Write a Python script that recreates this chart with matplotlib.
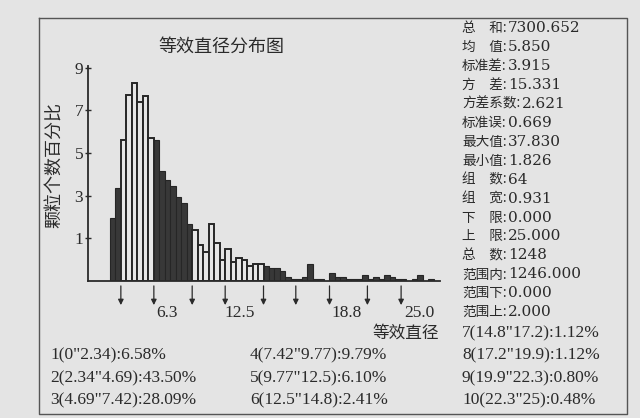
import numpy as np
import matplotlib
matplotlib.use("Agg")
import matplotlib.pyplot as plt
from matplotlib.lines import Line2D

# ---------------- data ----------------
n_bins = 64
x_upper = 25.0
bin_counts = [0, 0, 0, 0, 33, 49,            # group 1 (bins 0-5)
              74, 98, 104, 94, 97, 75,        # group 2 (bins 6-11)
              74, 58, 53, 50, 44, 41, 30,     # group 3 (bins 12-18)
              27, 19, 15, 30, 20, 11,         # group 4 (bins 19-24)
              17, 10, 12, 11, 8, 9, 9,        # group 5 (bins 25-31)
              8, 7, 7, 5, 2, 1,               # group 6 (bins 32-37)
              1, 2, 9, 1, 1, 0,               # group 7 (bins 38-43)
              4, 2, 2, 1, 1, 1, 3,            # group 8 (bins 44-50)
              1, 2, 1, 3, 2, 1,               # group 9 (bins 51-56)
              1, 0, 1, 3, 0, 1, 0]            # group 10 (bins 57-63)
total_in_range = 1246

group_edges = [0, 2.34, 4.69, 7.42, 9.77, 12.5, 14.8, 17.2, 19.9, 22.3, 25]
edge_labels = ['0', '2.34', '4.69', '7.42', '9.77', '12.5', '14.8', '17.2', '19.9', '22.3', '25']
group_pct = [6.58, 43.50, 28.09, 9.79, 6.10, 2.41, 1.12, 1.12, 0.80, 0.48]
group_dark = [True, False, True, False, False, True, True, True, True, True]

ytick_pos = [1.8, 3.6, 5.4, 7.2, 9.0]
ytick_labels = ['1', '3', '5', '7', '9']
xtick_pos = [5.6, 10.8, 18.4, 23.6]
xtick_labels = ['6.3', '12.5', '18.8', '25.0']

stat_labels = ['总　和', '均　值', '标准差', '方　差', '方差系数', '标准误', '最大值', '最小值',
               '组　数', '组　宽', '下　限', '上　限', '总　数', '范围内', '范围下', '范围上']
stat_values = ['7300.652', '5.850', '3.915', '15.331', '2.621', '0.669', '37.830', '1.826',
               '64', '0.931', '0.000', '25.000', '1248', '1246.000', '0.000', '2.000']

title = '等效直径分布图'
ylabel = '颗粒个数百分比'
xlabel = '等效直径'

# ---------------- style ----------------
W, H = 640, 418
bg = '#e4e4e4'
ink = '#2a2a2a'
dark = '#383838'
light = '#e6e6e6'
cjk = ['Noto Sans CJK SC']
serif = ['Liberation Serif', 'Noto Sans CJK SC']

fig = plt.figure(figsize=(W / 100, H / 100), dpi=100, facecolor=bg)

def fx(px):
    return px / W

def fy(py):
    return 1 - py / H

# outer frame
frame = [(39, 18), (627, 18), (627, 414), (39, 414), (39, 18)]
fig.add_artist(Line2D([fx(p[0]) for p in frame], [fy(p[1]) for p in frame],
                      transform=fig.transFigure, color='#555555', lw=1.0))

ax = fig.add_axes([fx(88), fy(281), fx(440) - fx(88), fy(66) - fy(281)])
ax.set_facecolor('none')
ax.set_xlim(0, 25.07)
ax.set_ylim(0, 9.07)

bw = x_upper / n_bins
lefts = np.arange(n_bins) * bw
pct = np.array(bin_counts) / total_in_range * 100
gidx = np.clip(np.searchsorted(group_edges, lefts + bw / 2) - 1, 0, 9)
for l, p, g in zip(lefts, pct, gidx):
    if p <= 0:
        continue
    if group_dark[g]:
        ax.bar(l, p, width=bw, align='edge', color=dark, edgecolor='#262626', linewidth=0.8)
    else:
        ax.bar(l, p, width=bw, align='edge', color=light, edgecolor='#262626', linewidth=1.4)

for s in ['top', 'right']:
    ax.spines[s].set_visible(False)
for s in ['left', 'bottom']:
    ax.spines[s].set_color(ink)
    ax.spines[s].set_linewidth(1.3)

ax.set_yticks(ytick_pos, ytick_labels, family=serif, fontsize=12.5, color=ink)
ax.tick_params(axis='y', direction='inout', length=5, width=1.0, color=ink, pad=1)
ax.set_xticks(xtick_pos, xtick_labels, family=serif, fontsize=12.5, color=ink)
ax.tick_params(axis='x', length=0, pad=17)

# arrows at group boundaries
for b in group_edges[1:-1]:
    ax.annotate('', xy=(b, -0.125), xytext=(b, -0.01),
                xycoords=('data', 'axes fraction'), textcoords=('data', 'axes fraction'),
                arrowprops=dict(arrowstyle='-|>', color=ink, lw=0.9, mutation_scale=8),
                annotation_clip=False)

fig.text(fx(221), fy(47), title, family=cjk, fontsize=13, color=ink, ha='center', va='center')
fig.text(fx(55), fy(165), ylabel, family=cjk, fontsize=13, color=ink, ha='center', va='center',
         rotation=90)
fig.text(fx(406), fy(333), xlabel, family=cjk, fontsize=12, color=ink, ha='center', va='center')

# statistics block
for i, (lab, val) in enumerate(zip(stat_labels, stat_values)):
    y = 28 + i * 18.95
    t = fig.text(fx(462), fy(y), lab + ':', family=cjk, fontsize=9.8, color=ink,
                 ha='left', va='center')
    ax.annotate(val, xy=(1.0, 0.5), xycoords=t, xytext=(1, 0), textcoords='offset points',
                family=['DejaVu Serif'], fontsize=11, color=ink, ha='left', va='center',
                annotation_clip=False)

# group percentage rows
col_x = [50, 50, 50, 250, 250, 250, 462, 462, 462, 462]
row_y = [355, 378, 400, 355, 378, 400, 333, 355, 378, 400]
for i, p in enumerate(group_pct):
    s = f'{i + 1}({edge_labels[i]}"{edge_labels[i + 1]}):{p:.2f}%'
    fig.text(fx(col_x[i]), fy(row_y[i]), s, family=serif, fontsize=12.5, color=ink,
             ha='left', va='center')

fig.savefig('out.png', dpi=100, facecolor=bg)
